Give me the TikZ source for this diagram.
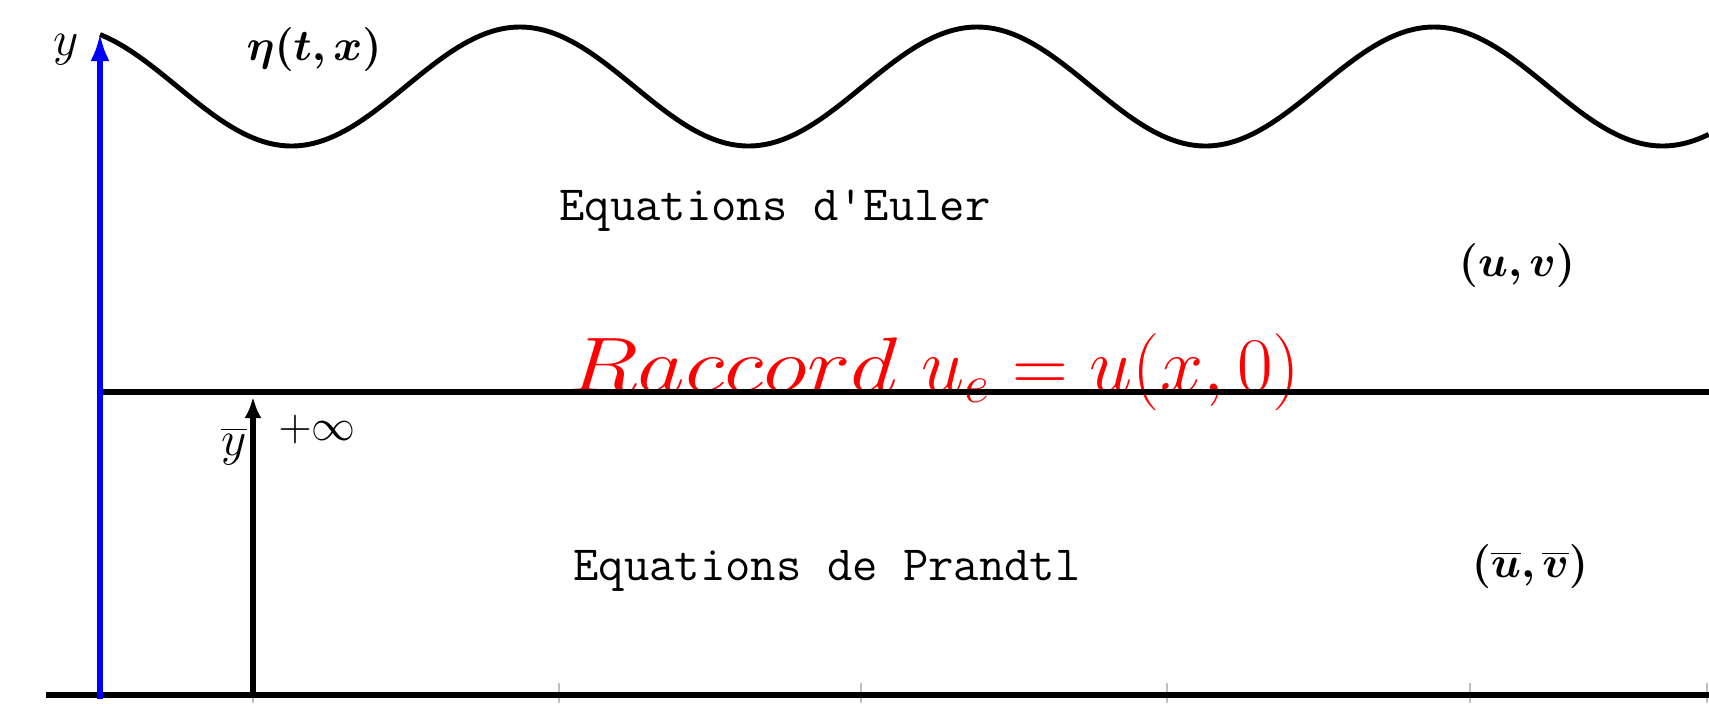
\documentclass[tikz,border=0pt]{standalone}
\usepackage{fix-cm}
\usepackage{graphicx}
\usepackage{bm}
\usetikzlibrary{arrows.meta}

\begin{document}
\begin{tikzpicture}[x=1cm,y=1cm,
  trait/.style={line width=1.7pt},
  lbl/.style={inner sep=0pt},
  eqn/.style={inner sep=0pt,anchor=base,font=\fontsize{14}{16}\selectfont\ttfamily}]
\useasboundingbox (0,0) rectangle (17.09,7.03);
% points of the axes
\coordinate (o) at (1.00,0.04);
\coordinate (oy) at (1.00,6.70);
\coordinate (g) at (0.46,0.08);
\coordinate (d) at (17.09,0.08);
\coordinate (m) at (1.00,3.11);
\coordinate (md) at (17.09,3.11);
\coordinate (b) at (2.53,0.08);
\coordinate (bt) at (2.53,3.06);
% labels
\node[lbl] (ly) at (0.66,6.53) {\fontsize{14}{16}\selectfont$y$};
\node[lbl] (eta) at (3.14,6.53) {\fontsize{12.5}{14}\selectfont$\bm{\eta(t,x)}$};
\node[eqn] (euler) at (7.75,4.83) {Equations d'Euler};
\node[lbl] (uv) at (15.17,4.37) {\fontsize{12.5}{14}\selectfont$\bm{(u,v)}$};
\node[lbl,anchor=base,text=red] (racc) at (9.34,3.12)
  {\fontsize{22}{26}\selectfont$\scalebox{1.2}[1]{$Raccord$}\ u_e=u(x,0)$};
\node[lbl] (yb) at (2.34,2.57) {\fontsize{14}{16}\selectfont$\overline{y}$};
\node[lbl] (inf) at (3.17,2.73) {\fontsize{12.5}{14}\selectfont$+\infty$};
\node[eqn] (prandtl) at (8.27,1.23) {Equations de Prandtl};
\node[lbl] (uvb) at (15.30,1.36) {\fontsize{12.5}{14}\selectfont$\bm{(\overline{u},\overline{v})}$};
% ticks
\foreach \t in {2.53,5.59,8.61,11.67,14.70,17.07}
  \draw[gray!50,line width=0.5pt] (\t,0) -- (\t,0.20);
% lines
\draw[trait] (g) -- (d);
\draw[trait] (m) -- (md);
\draw[line width=1.5pt,-{Latex[length=2.1mm,width=1.7mm]}] (b) -- (bt);
\draw[trait,blue,-{Latex[length=2.8mm,width=1.9mm]}] (o) -- (oy);
% free surface
\draw[line width=1.4pt,smooth,domain=1.00:17.09,samples=300]
  plot (\x,{6.165+0.595*cos(360*(\x-5.20)/4.57)});
\end{tikzpicture}
\end{document}
